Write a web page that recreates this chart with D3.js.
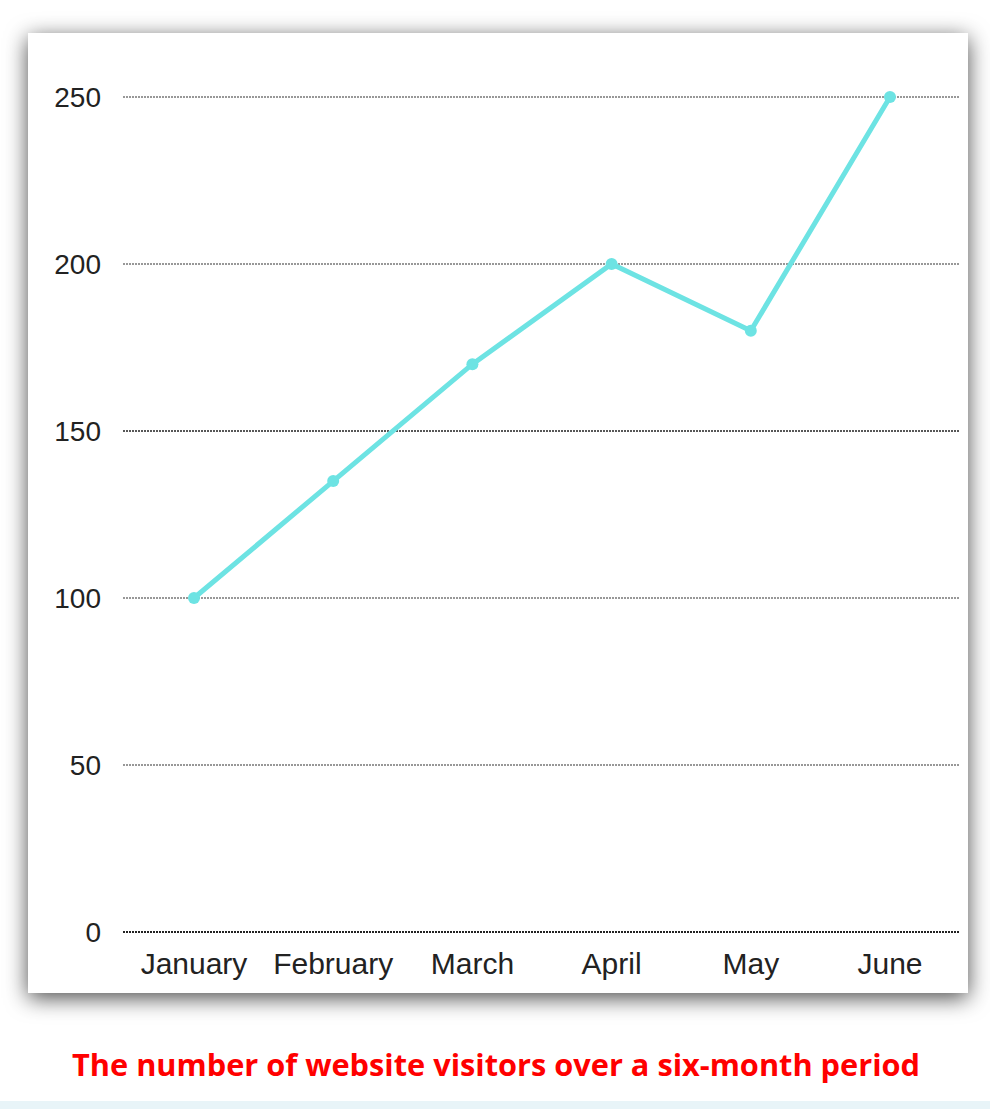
<!DOCTYPE html>
<html>
<head>
<meta charset="utf-8">
<script src="https://cdn.jsdelivr.net/npm/d3@7"></script>
<style>
  body { margin: 0; background: #fff; }
</style>
</head>
<body>
<svg id="chart" width="990" height="1109"></svg>
<script>
  "use strict";

  var months = ["January", "February", "March", "April", "May", "June"];
  var visitors = [100, 135, 170, 200, 180, 250];
  var yTicks = [0, 50, 100, 150, 200, 250];
  var chartTitle = "The number of website visitors over a six-month period";

  var svg = d3.select("#chart");

  var defs = svg.append("defs");
  var filter = defs.append("filter").attr("id", "shadow")
    .attr("x", "-10%").attr("y", "-10%").attr("width", "120%").attr("height", "120%");
  filter.append("feDropShadow")
    .attr("dx", 0).attr("dy", 5).attr("stdDeviation", 11)
    .attr("flood-color", "#000").attr("flood-opacity", 0.7);

  // bottom strip
  svg.append("rect").attr("x", 0).attr("y", 1101).attr("width", 990).attr("height", 8)
    .attr("fill", "#e8f4f8");

  // card
  svg.append("rect")
    .attr("x", 28).attr("y", 33).attr("width", 940).attr("height", 960)
    .attr("fill", "#fff").attr("filter", "url(#shadow)");

  var x = d3.scalePoint().domain(months).range([194, 890]);
  var y = d3.scaleLinear().domain([0, 250]).range([932, 97]);

  // grid lines
  svg.append("g").selectAll("line").data(yTicks).enter().append("line")
    .attr("x1", 123).attr("x2", 960)
    .attr("y1", function(d) { return y(d); })
    .attr("y2", function(d) { return y(d); })
    .attr("stroke", function(d) { return d === 150 || d === 0 ? "#222" : "#777"; })
    .attr("stroke-width", function(d) { return d === 0 ? 2 : 1.3; })
    .attr("stroke-dasharray", "2,1");

  // y labels
  svg.append("g").selectAll("text").data(yTicks).enter().append("text")
    .attr("x", 101).attr("y", function(d) { return y(d) + 10; })
    .attr("text-anchor", "end")
    .attr("font-family", "Liberation Sans Narrow, Arial Narrow, Liberation Sans, sans-serif")
    .attr("font-size", 28).attr("fill", "#222")
    .text(function(d) { return d; });

  // x labels
  svg.append("g").selectAll("text").data(months).enter().append("text")
    .attr("x", function(d) { return x(d); }).attr("y", 974)
    .attr("text-anchor", "middle")
    .attr("font-family", "Liberation Sans Narrow, Arial Narrow, Liberation Sans, sans-serif")
    .attr("font-size", 30).attr("fill", "#222")
    .text(function(d) { return d; });

  var line = d3.line()
    .x(function(d, i) { return x(months[i]); })
    .y(function(d) { return y(d); });

  svg.append("path").datum(visitors)
    .attr("d", line)
    .attr("fill", "none").attr("stroke", "#6de3e3").attr("stroke-width", 5);

  svg.append("g").selectAll("circle").data(visitors).enter().append("circle")
    .attr("cx", function(d, i) { return x(months[i]); })
    .attr("cy", function(d) { return y(d); })
    .attr("r", 6).attr("fill", "#6de3e3");

  svg.append("text").attr("x", 496).attr("y", 1076)
    .attr("text-anchor", "middle")
    .attr("font-family", "Open Sans, Noto Sans, sans-serif")
    .attr("font-weight", "bold").attr("font-size", 30.5).attr("fill", "#f00")
    .attr("textLength", 848).attr("lengthAdjust", "spacingAndGlyphs")
    .text(chartTitle);
</script>
</body>
</html>
